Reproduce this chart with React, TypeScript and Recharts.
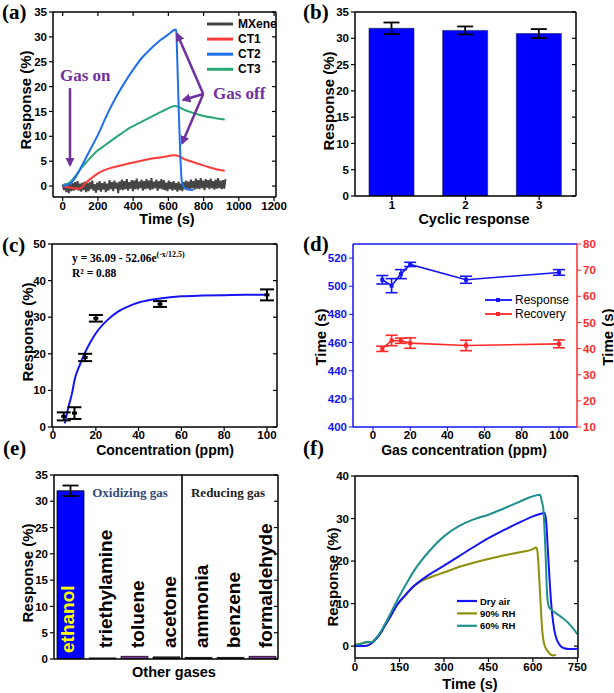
import React from 'react';
import { ComposedChart, Line, Bar, XAxis, YAxis, ErrorBar, ReferenceLine, Cell } from 'recharts';

const SANS = '"Liberation Sans", Arial, Helvetica, sans-serif';
const SERIF = '"Liberation Serif", "Times New Roman", serif';
const PURPLE = '#7030a0';
const BLUE = '#1414f5';
const RED = '#ff2a2a';

// (a) transient curves: [time s, response %]
const mxeneStep = 7;
const mxeneResp = [
  0.3, -0.8, 0.5, -1.2, 0.2, -1.4, 0.4, -1.0, 0.6, -0.9,
  0.8, -0.7, 1.0, -0.9, 0.5, -1.1, 0.7, -0.8, 0.9, -1.2,
  0.6, -1.0, 0.8, -0.6, 1.1, -0.9, 0.4, -1.3, 0.7, -0.8,
  1.0, -1.1, 0.6, -0.7, 0.9, -1.2, 0.5, -0.9, 1.2, -0.6,
  0.8, -1.0, 1.1, -0.5, 0.7, -1.4, 0.9, -0.7, 1.3, -0.8,
  1.0, -0.6, 1.4, -0.9, 0.8, -0.5, 1.2, -1.0, 1.1, -0.6,
  1.5, -0.7, 0.9, -0.4, 1.3, -0.9, 1.0, -0.6, 1.4, -0.5,
  1.1, -0.8, 1.6, -0.6, 0.9, -0.4, 1.3, -0.9, 1.0, -0.5,
  1.4, -0.7, 1.2, -0.8, 0.7, -1.0, 1.1, -0.6, 0.8, -0.9,
  1.0, -0.7, 0.6, -1.1, 0.9, -0.8, 0.5, -1.0, 0.8, -0.6,
  1.1, -0.5, 0.9, -0.8, 1.3, -0.4, 1.0, -0.7, 1.5, -0.5,
  1.2, -0.6, 1.6, -0.4, 1.1, -0.8, 1.4, -0.3, 1.2, -0.6,
  1.5, -0.4, 1.0, -0.7, 1.3, -0.5, 1.6, -0.4, 1.1, -0.6,
  1.2, -0.5, 1.4,
];
const ct1Curve = [
  [0, -0.1], [30, -0.2], [70, -0.5], [98, -0.5], [127, 0.5], [160, 1.5], [202, 2.6], [260, 3.5],
  [335, 4.2], [410, 4.8], [486, 5.4], [560, 5.8], [638, 6.2], [700, 5.3], [760, 4.6], [820, 3.9],
  [870, 3.4], [920, 3.1],
];
const ct2Curve = [
  [0, 0], [22, 0.2], [50, 0.7], [75, 1.9], [100, 3.5], [125, 5.2], [150, 6.9], [200, 10.3],
  [250, 14.2], [300, 17.7], [350, 20.7], [400, 23.4], [450, 25.8], [500, 27.6], [550, 29.2],
  [600, 30.5], [642, 31.5], [645, 31], [650, 26], [660, 14], [668, 6], [676, 1], [690, -0.3],
  [710, -0.7], [742, -0.8],
];
const ct3Curve = [
  [0, 0.2], [35, 0.6], [70, 1.9], [105, 3.6], [145, 5.2], [190, 6.9], [240, 8.2], [290, 9.5],
  [335, 10.6], [380, 11.7], [430, 12.6], [480, 13.5], [524, 14.3], [580, 15.3], [638, 16.1],
  [700, 15.2], [750, 14.6], [800, 14.1], [860, 13.7], [920, 13.4],
];
const aTimeTicks = [0, 200, 400, 600, 800, 1000, 1200];
const aRespTicks = [0, 5, 10, 15, 20, 25, 30, 35];

// (b) cyclic response
const cycles = ['1', '2', '3'];
const cycleResp = [31.9, 31.5, 30.9];
const cycleErr = [1.1, 0.75, 0.85];
const bRespTicks = [0, 5, 10, 15, 20, 25, 30, 35];

// (c) response vs concentration
const concPpm = [5, 10, 15, 20, 50, 100];
const concResp = [2.9, 3.8, 19, 29.7, 33.6, 36.1];
const concErr = [1.1, 1.6, 1, 0.9, 0.8, 1.5];
const fitCurve = [
  [5.5, 1], [7, 5], [9, 9.6], [10, 12.7], [12.5, 17], [15, 20.4], [17.5, 23.2], [20, 25.6],
  [25, 29], [30, 31.4], [35, 32.9], [40, 34], [50, 35.1], [60, 35.7], [70, 35.9], [80, 36],
  [90, 36.1], [100, 36.1],
];
const cConcTicks = [0, 20, 40, 60, 80, 100];
const cRespTicks = [0, 10, 20, 30, 40, 50];

// (d) response / recovery times
const gasConc = [5, 10, 15, 20, 50, 100];
const respTime = [504.6, 500.4, 508.6, 515.5, 504.6, 509.8];
const respTimeErr = [3, 5, 3.2, 1.5, 2.5, 2];
const recTime = [39.9, 43.1, 43, 42.1, 41.2, 41.8];
const recTimeErr = [1, 2, 1, 2, 2, 1.5];
const dConcTicks = [0, 20, 40, 60, 80, 100];
const dRespTicks = [400, 420, 440, 460, 480, 500, 520];
const dRecTicks = [10, 20, 30, 40, 50, 60, 70, 80];

// (e) selectivity
const gases = ['ethanol', 'triethylamine', 'toluene', 'acetone', 'ammonia', 'benzene', 'formaldehyde'];
const gasResp = [32, 0.2, 0.5, 0.4, 0.3, 0.3, 0.5];
const gasErr = [1, null, null, null, null, null, null];
const eRespTicks = [0, 5, 10, 15, 20, 25, 30, 35];

// (f) humidity
const dryAir = [
  [0, 0], [20, 0], [40, 0.1], [55, 0.6], [70, 1.6], [85, 2.9], [100, 4.7], [120, 7], [141, 9.6],
  [170, 12], [197, 14], [250, 16.8], [300, 18.9], [350, 21.1], [400, 23.3], [450, 25.4],
  [500, 27.2], [550, 28.9], [600, 30.5], [620, 31], [640, 31.3], [645, 29], [650, 23], [655, 17],
  [660, 11.5], [665, 7.5], [672, 3.8], [680, 1.6], [690, 0.3], [705, -0.5], [725, -0.7], [750, -0.6],
];
const rh90 = [
  [0, 0.3], [15, 0.5], [30, 0.8], [45, 0.9], [55, 0.9], [70, 1.7], [85, 2.9], [100, 4.7], [120, 7],
  [141, 9.6], [170, 12], [197, 14], [230, 15.5], [270, 16.6], [300, 17.3], [350, 18.6], [400, 19.6],
  [450, 20.5], [500, 21.3], [550, 22], [600, 22.8], [610, 23.2], [614, 22.8], [618, 20], [622, 15],
  [626, 10], [630, 5], [634, 2], [640, 0], [650, -1.2], [660, -2], [668, -2.2], [677, -2],
];
const rh60 = [
  [0, 0.3], [20, 0.5], [35, 0.9], [45, 1], [55, 0.9], [70, 1.8], [85, 3.2], [100, 5], [125, 8.4],
  [150, 11.8], [175, 14.9], [200, 17.8], [250, 22.3], [300, 25.8], [350, 28.2], [400, 29.8],
  [450, 30.9], [500, 32.3], [550, 33.8], [603, 35.3], [624, 35.6], [630, 34], [635, 32.3], [640, 26],
  [643, 21], [646, 15], [648, 12], [654, 9.2], [671, 8.1], [700, 6.6], [716, 5.7], [750, 2.8],
];
const fTimeTicks = [0, 150, 300, 450, 600, 750];
const fRespTicks = [0, 10, 20, 30, 40];

const pairs = (arr: number[][]) => arr.map(([x, y]) => ({ x, y }));

const tickFont = { fill: '#000', fontSize: 11.5, fontWeight: 700, fontFamily: SANS };
const axisLine = { stroke: '#000', strokeWidth: 1.5 };
const tickLine = { stroke: '#000', strokeWidth: 1.2 };

const square = (color: string, w: number, h: number) => (p: any) =>
  p.cx == null ? <g key={`n${p.index}`} /> : (
    <rect key={`d${p.index}`} x={p.cx - w / 2} y={p.cy - h / 2} width={w} height={h} fill={color} />
  );

// closes the plot box: top + right border lines with short inward ticks.
// kx / ky = tick length expressed in data units of that panel
type FrameOpts = {
  xd: number[]; yd: number[]; kx: number; ky: number;
  rightTicks?: number[]; topTicks?: number[]; right?: boolean; color?: string; yAxisId?: string | number;
};
const frame = ({ xd, yd, kx, ky, rightTicks = [], topTicks = [], right = true, color = '#000', yAxisId = 0 }: FrameOpts) => {
  const common = { stroke: color, yAxisId, ifOverflow: 'visible' as const };
  const out = [
    <ReferenceLine key="ft" {...common} strokeWidth={1.5} segment={[{ x: xd[0], y: yd[1] }, { x: xd[1], y: yd[1] }]} />,
  ];
  if (right) {
    out.push(<ReferenceLine key="fr" {...common} strokeWidth={1.5} segment={[{ x: xd[1], y: yd[0] }, { x: xd[1], y: yd[1] }]} />);
  }
  rightTicks.forEach((t) =>
    out.push(<ReferenceLine key={`rt${t}`} {...common} strokeWidth={1.2} segment={[{ x: xd[1], y: t }, { x: xd[1] - kx, y: t }]} />));
  topTicks.forEach((t) =>
    out.push(<ReferenceLine key={`tt${t}`} {...common} strokeWidth={1.2} segment={[{ x: t, y: yd[1] }, { x: t, y: yd[1] - ky }]} />));
  return out;
};

const PanelA = () => {
  const xd = [-55, 1211];
  const yd = [-2.2, 35];
  const mx = mxeneResp.map((y, i) => ({ x: i * mxeneStep, y }));
  return (
    <ComposedChart width={300} height={225} margin={{ top: 12, right: 24, bottom: 0, left: 0 }}>
      <XAxis type="number" dataKey="x" domain={xd} ticks={aTimeTicks} allowDataOverflow interval={0} height={28}
        axisLine={axisLine} tickLine={tickLine} tickSize={4} tickMargin={1} tick={tickFont} />
      <YAxis type="number" domain={yd} ticks={aRespTicks} allowDataOverflow interval={0} width={53}
        axisLine={axisLine} tickLine={tickLine} tickSize={4} tick={tickFont} />
      <Line data={mx} dataKey="y" type="linear" stroke="#454545" strokeWidth={2} dot={false} activeDot={false} isAnimationActive={false} />
      <Line data={pairs(ct1Curve)} dataKey="y" type="monotone" stroke="#ff3b3b" strokeWidth={2} dot={false} activeDot={false} isAnimationActive={false} />
      <Line data={pairs(ct3Curve)} dataKey="y" type="monotone" stroke="#2aa874" strokeWidth={2} dot={false} activeDot={false} isAnimationActive={false} />
      <Line data={pairs(ct2Curve)} dataKey="y" type="monotone" stroke="#1f6fe8" strokeWidth={2} dot={false} activeDot={false} isAnimationActive={false} />
      {frame({ xd, yd, kx: 4 / 0.1762, ky: 4 / 4.973, rightTicks: aRespTicks, topTicks: aTimeTicks })}
      <ReferenceLine segment={[{ x: 41.5, y: 19.7 }, { x: 41.5, y: 4.2 }]} stroke={PURPLE} strokeWidth={2.5} markerEnd="url(#arrP)" />
      <ReferenceLine segment={[{ x: 798, y: 18.5 }, { x: 650, y: 30.6 }]} stroke={PURPLE} strokeWidth={2.5} markerEnd="url(#arrP)" />
      <ReferenceLine segment={[{ x: 798, y: 18.5 }, { x: 684, y: 17.3 }]} stroke={PURPLE} strokeWidth={2.5} markerEnd="url(#arrP)" />
      <ReferenceLine segment={[{ x: 798, y: 18.5 }, { x: 678, y: 8.6 }]} stroke={PURPLE} strokeWidth={2.5} markerEnd="url(#arrP)" />
    </ComposedChart>
  );
};

const PanelB = () => {
  const data = cycles.map((c, i) => ({ i: i + 1, v: cycleResp[i], e: cycleErr[i] }));
  const xd = [0.5, 3.5];
  const yd = [0, 35];
  return (
    <ComposedChart width={314} height={225} data={data} margin={{ top: 12, right: 38, bottom: 0, left: 0 }}>
      <XAxis type="number" dataKey="i" domain={xd} ticks={[1, 2, 3]} allowDataOverflow interval={0} height={29}
        tickFormatter={(v) => cycles[v - 1]} axisLine={axisLine} tickLine={tickLine} tickSize={4} tickMargin={1} tick={tickFont} />
      <YAxis type="number" domain={yd} ticks={bRespTicks} allowDataOverflow interval={0} width={55}
        axisLine={axisLine} tickLine={tickLine} tickSize={4} tick={tickFont} />
      <Bar dataKey="v" barSize={45} fill="#0000ff" stroke="#1a1a55" strokeWidth={0.6} isAnimationActive={false}>
        <ErrorBar dataKey="e" width={8} stroke="#000" strokeWidth={1.8} />
      </Bar>
      {frame({ xd, yd, kx: 4 / 73.67, ky: 0, rightTicks: bRespTicks })}
    </ComposedChart>
  );
};

const PanelC = () => {
  const pts = concPpm.map((x, i) => ({ x, y: concResp[i], e: concErr[i] }));
  const xd = [-0.5, 104.7];
  const yd = [0, 50];
  return (
    <ComposedChart width={300} height={230} margin={{ top: 19, right: 23, bottom: 0, left: 0 }}>
      <XAxis type="number" dataKey="x" domain={xd} ticks={cConcTicks} allowDataOverflow interval={0} height={28}
        axisLine={axisLine} tickLine={tickLine} tickSize={4} tickMargin={0} tick={tickFont} />
      <YAxis type="number" domain={yd} ticks={cRespTicks} allowDataOverflow interval={0} width={52}
        axisLine={axisLine} tickLine={tickLine} tickSize={4} tick={tickFont} />
      <Line data={pairs(fitCurve)} dataKey="y" type="monotone" stroke={BLUE} strokeWidth={2} dot={false} activeDot={false} isAnimationActive={false} />
      <Line data={pts} dataKey="y" stroke="none" dot={square('#000', 5, 3)} activeDot={false} isAnimationActive={false}>
        <ErrorBar dataKey="e" width={7} stroke="#000" strokeWidth={2} />
      </Line>
      {frame({ xd, yd, kx: 4 / 2.139, ky: 0, rightTicks: cRespTicks })}
    </ComposedChart>
  );
};

const PanelD = () => {
  const resp = gasConc.map((x, i) => ({ x, y: respTime[i], e: respTimeErr[i] }));
  const rec = gasConc.map((x, i) => ({ x, y: recTime[i], e: recTimeErr[i] }));
  const xd = [-10.75, 109.7];
  const ydl = [400, 530];
  const blueAxis = { stroke: BLUE, strokeWidth: 1.5 };
  return (
    <ComposedChart width={314} height={230} margin={{ top: 19, right: 0, bottom: 0, left: 0 }}>
      <XAxis type="number" dataKey="x" domain={xd} ticks={dConcTicks} allowDataOverflow interval={0} height={28}
        axisLine={blueAxis} tickLine={{ stroke: BLUE }} tickSize={4} tickMargin={0} tick={tickFont} />
      <YAxis yAxisId="l" type="number" domain={ydl} ticks={dRespTicks} allowDataOverflow interval={0} width={53}
        axisLine={blueAxis} tickLine={{ stroke: BLUE }} tickSize={4} tick={{ ...tickFont, fill: BLUE }} />
      <YAxis yAxisId="r" orientation="right" type="number" domain={[10, 80]} ticks={dRecTicks} allowDataOverflow
        interval={0} width={37} axisLine={{ stroke: RED, strokeWidth: 1.5 }} tickLine={{ stroke: RED }} tickSize={4}
        tick={{ ...tickFont, fill: RED }} />
      <Line yAxisId="l" data={resp} dataKey="y" stroke={BLUE} strokeWidth={1.6} dot={square(BLUE, 4, 4)} activeDot={false} isAnimationActive={false}>
        <ErrorBar dataKey="e" width={6} stroke={BLUE} strokeWidth={1.6} />
      </Line>
      <Line yAxisId="r" data={rec} dataKey="y" stroke={RED} strokeWidth={1.6} dot={square(RED, 4, 4)} activeDot={false} isAnimationActive={false}>
        <ErrorBar dataKey="e" width={6} stroke={RED} strokeWidth={1.6} />
      </Line>
      {frame({ xd, yd: ydl, kx: 0, ky: 0, right: false, color: BLUE, yAxisId: 'l' })}
    </ComposedChart>
  );
};

const GasTick = (p: any) => {
  const i = p.payload.value;
  const first = i === 0;
  const bx = p.x + (first ? -3 : 3);
  const by = p.y - (first ? 6 : 11);
  return (
    <text x={bx} y={by} transform={`rotate(-90 ${bx} ${by})`} fill={first ? '#ffff00' : '#000'} fontSize={19}
      fontWeight={700} fontFamily={SANS} dominantBaseline="central">
      {gases[i]}
    </text>
  );
};

const PanelE = () => {
  const data = gases.map((g, i) => ({ i, v: gasResp[i], e: gasErr[i] }));
  const barFill = ['#0000ff', '#2a2a2a', '#8a3aa8', '#2a2a2a', '#2a2a2a', '#2a2a2a', '#8a3aa8'];
  const xd = [-0.5, 6.5];
  const yd = [0, 35];
  return (
    <ComposedChart width={300} height={238} data={data} margin={{ top: 20, right: 22, bottom: 0, left: 0 }}>
      <XAxis type="number" dataKey="i" domain={xd} ticks={[0, 1, 2, 3, 4, 5, 6]} allowDataOverflow interval={0}
        height={34} axisLine={axisLine} tickLine={false} tickSize={0} tickMargin={0} tick={GasTick} />
      <YAxis type="number" domain={yd} ticks={eRespTicks} allowDataOverflow interval={0} width={54}
        axisLine={axisLine} tickLine={tickLine} tickSize={4} tick={tickFont} />
      <Bar dataKey="v" barSize={27} stroke="#000" strokeWidth={0.8} isAnimationActive={false}>
        {data.map((d, k) => <Cell key={k} fill={barFill[k]} />)}
        <ErrorBar dataKey="e" width={8} stroke="#000" strokeWidth={1.8} />
      </Bar>
      <ReferenceLine x={3.5} stroke="#000" strokeWidth={1.6} />
      {frame({ xd, yd, kx: 4 / 32, ky: 0, rightTicks: eRespTicks })}
    </ComposedChart>
  );
};

const PanelF = () => {
  const xd = [0, 752];
  const yd = [-2.8, 40];
  return (
    <ComposedChart width={314} height={238} margin={{ top: 21, right: 36, bottom: 0, left: 0 }}>
      <XAxis type="number" dataKey="x" domain={xd} ticks={fTimeTicks} allowDataOverflow interval={0} height={35}
        axisLine={axisLine} tickLine={tickLine} tickSize={4} tickMargin={1} tick={tickFont} />
      <YAxis type="number" domain={yd} ticks={fRespTicks} allowDataOverflow interval={0} width={55}
        axisLine={axisLine} tickLine={tickLine} tickSize={4} tick={tickFont} />
      <Line data={pairs(rh90)} dataKey="y" type="monotone" stroke="#8f8f0a" strokeWidth={2} dot={false} activeDot={false} isAnimationActive={false} />
      <Line data={pairs(dryAir)} dataKey="y" type="monotone" stroke={BLUE} strokeWidth={2} dot={false} activeDot={false} isAnimationActive={false} />
      <Line data={pairs(rh60)} dataKey="y" type="monotone" stroke="#1f8f8f" strokeWidth={2} dot={false} activeDot={false} isAnimationActive={false} />
      {frame({ xd, yd, kx: 4 / 0.2965, ky: 0, rightTicks: fRespTicks })}
    </ComposedChart>
  );
};

const Txt = ({ x, y, size = 15, weight = 700, color = '#000', family = SANS, anchor = 'middle', vertical = false, children }: any) => (
  <text x={x} y={y} fontSize={size} fontWeight={weight} fill={color} fontFamily={family} textAnchor={anchor}
    dominantBaseline={vertical ? 'central' : undefined} transform={vertical ? `rotate(-90 ${x} ${y})` : undefined}>
    {children}
  </text>
);

const legendA = [['MXene', '#454545'], ['CT1', '#ff3b3b'], ['CT2', '#1f6fe8'], ['CT3', '#2aa874']];
const legendD = [['Response', BLUE], ['Recovery', RED]];
const legendF = [['Dry air', BLUE], ['90% RH', '#8f8f0a'], ['60% RH', '#1f8f8f']];

const Overlay = () => (
  <svg width={614} height={693} style={{ position: 'absolute', left: 0, top: 0, pointerEvents: 'none' }}>
    <defs>
      <marker id="arrP" viewBox="0 0 10 10" refX="8" refY="5" markerWidth="3.6" markerHeight="3.6" orient="auto">
        <path d="M0,0 L10,5 L0,10 z" fill={PURPLE} />
      </marker>
    </defs>
    {/* panel letters */}
    <Txt x={2} y={19} size={21} family={SERIF} anchor="start">(a)</Txt>
    <Txt x={303} y={19} size={21} family={SERIF} anchor="start">(b)</Txt>
    <Txt x={2} y={252} size={21} family={SERIF} anchor="start">(c)</Txt>
    <Txt x={303} y={251} size={21} family={SERIF} anchor="start">(d)</Txt>
    <Txt x={3} y={455} size={21} family={SERIF} anchor="start">(e)</Txt>
    <Txt x={303} y={455} size={21} family={SERIF} anchor="start">(f)</Txt>

    {/* axis titles */}
    <Txt x={25} y={100} vertical>Response (%)</Txt>
    <Txt x={167} y={224} size={14.5}>Time (s)</Txt>
    <Txt x={328} y={101} vertical>Response (%)</Txt>
    <Txt x={474} y={224} size={14.5}>Cyclic response</Txt>
    <Txt x={27} y={332} vertical>Response (%)</Txt>
    <Txt x={165} y={454.5} size={14}>Concentration (ppm)</Txt>
    <Txt x={320} y={337} vertical>Time (s)</Txt>
    <Txt x={607} y={337} vertical>Time (s)</Txt>
    <Txt x={464} y={454.5} size={14}>Gas concentration (ppm)</Txt>
    <Txt x={27} y={573} vertical>Response (%)</Txt>
    <Txt x={174} y={677} size={14.5}>Other gases</Txt>
    <Txt x={332} y={577} vertical>Response (%)</Txt>
    <Txt x={470} y={689} size={14.5}>Time (s)</Txt>

    {/* (a) annotations and legend */}
    <Txt x={60} y={81} size={17} family={SERIF} color={PURPLE} anchor="start">Gas on</Txt>
    <Txt x={213} y={99} size={17} family={SERIF} color={PURPLE} anchor="start">Gas off</Txt>
    {legendA.map(([name, color], i) => (
      <g key={name}>
        <line x1={207} x2={233} y1={24 + i * 15.1} y2={24 + i * 15.1} stroke={color} strokeWidth={3} />
        <Txt x={238} y={28 + i * 15.1} size={12} anchor="start">{name}</Txt>
      </g>
    ))}

    {/* (c) fit equation */}
    <text x={72} y={262} fontSize={11.5} fontWeight={700} fontFamily={SERIF} fill="#000">
      y = 36.09 - 52.06e<tspan fontSize={8} dy={-5}>(-x/12.5)</tspan>
    </text>
    <Txt x={72} y={277} size={11.5} family={SERIF} anchor="start">R² = 0.88</Txt>

    {/* (d) legend */}
    {legendD.map(([name, color], i) => (
      <g key={name}>
        <line x1={485} x2={512} y1={300 + i * 14} y2={300 + i * 14} stroke={color} strokeWidth={1.8} />
        <rect x={496} y={298 + i * 14} width={4} height={4} fill={color} />
        <Txt x={515} y={304 + i * 14} size={12} weight={400} anchor="start">{name}</Txt>
      </g>
    ))}

    {/* (e) group captions */}
    <Txt x={130} y={497} size={13} family={SERIF} color="#2e4a7a">Oxidizing gas</Txt>
    <Txt x={228} y={497} size={13} family={SERIF} color="#222">Reducing gas</Txt>

    {/* (f) legend */}
    {legendF.map(([name, color], i) => (
      <g key={name}>
        <line x1={457} x2={477} y1={601 + i * 12.4} y2={601 + i * 12.4} stroke={color} strokeWidth={2.2} />
        <Txt x={480} y={604.5 + i * 12.4} size={9.5} anchor="start">{name}</Txt>
      </g>
    ))}
  </svg>
);

const at = (left: number, top: number): React.CSSProperties => ({ position: 'absolute', left, top });

export default function App() {
  return (
    <div style={{ position: 'absolute', left: 0, top: 0, width: 614, height: 693, background: '#fff', overflow: 'hidden' }}>
      <div style={at(0, 0)}><PanelA /></div>
      <div style={at(300, 0)}><PanelB /></div>
      <div style={at(0, 225)}><PanelC /></div>
      <div style={at(300, 225)}><PanelD /></div>
      <div style={at(0, 455)}><PanelE /></div>
      <div style={at(300, 455)}><PanelF /></div>
      <Overlay />
    </div>
  );
}
